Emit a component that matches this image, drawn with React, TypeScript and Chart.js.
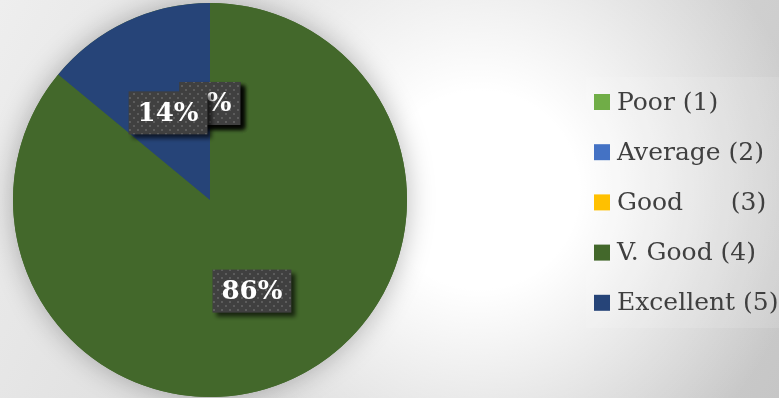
import React, { useEffect, useRef } from "react";
import { Chart, registerables } from "chart.js";

Chart.register(...registerables);

const categories = [
  "Poor (1)",
  "Average (2)",
  "Good\u00a0\u00a0\u00a0\u00a0\u00a0\u00a0(3)",
  "V. Good (4)",
  "Excellent (5)",
];
const percentages = [0, 0, 0, 86, 14];
const sliceColors = ["#70AD47", "#4472C4", "#FFC000", "#43682B", "#264478"];

const W = 779;
const H = 398;

const backgroundPlugin = {
  id: "bg",
  beforeDraw(chart: any) {
    const ctx = chart.ctx;
    ctx.save();
    const lin = ctx.createLinearGradient(0, 0, W, H);
    lin.addColorStop(0, "#eeeeee");
    lin.addColorStop(1, "#c6c6c6");
    ctx.fillStyle = lin;
    ctx.fillRect(0, 0, W, H);
    const rad = ctx.createRadialGradient(480, 190, 0, 480, 190, 330);
    rad.addColorStop(0, "rgba(255,255,255,1)");
    rad.addColorStop(0.3, "rgba(255,255,255,1)");
    rad.addColorStop(1, "rgba(255,255,255,0)");
    ctx.fillStyle = rad;
    ctx.fillRect(0, 0, W, H);
    // legend panel
    ctx.fillStyle = "rgba(255,255,255,0.12)";
    ctx.fillRect(586, 77, W - 586, 251);
    ctx.restore();
  },
};

const pieShadowPlugin = {
  id: "pieShadow",
  beforeDatasetsDraw(chart: any) {
    const meta = chart.getDatasetMeta(0);
    const arc = meta.data[0];
    if (!arc) return;
    const { x, y, outerRadius } = arc.getProps(["x", "y", "outerRadius"], true);
    const ctx = chart.ctx;
    ctx.save();
    ctx.shadowColor = "rgba(0,0,0,0.28)";
    ctx.shadowBlur = 28;
    ctx.fillStyle = sliceColors[3];
    ctx.beginPath();
    ctx.arc(x, y, outerRadius, 0, Math.PI * 2);
    ctx.fill();
    ctx.restore();
  },
};

let dotPattern: CanvasPattern | null = null;
function getPattern(ctx: CanvasRenderingContext2D) {
  if (dotPattern) return dotPattern;
  const c = document.createElement("canvas");
  c.width = 8;
  c.height = 8;
  const p = c.getContext("2d")!;
  p.fillStyle = "#404040";
  p.fillRect(0, 0, 8, 8);
  p.fillStyle = "#5c5c5c";
  p.fillRect(1, 1, 2, 2);
  p.fillRect(5, 5, 2, 2);
  dotPattern = ctx.createPattern(c, "repeat");
  return dotPattern;
}

const labelPlugin = {
  id: "sliceLabels",
  afterDatasetsDraw(chart: any) {
    const ctx: CanvasRenderingContext2D = chart.ctx;
    const meta = chart.getDatasetMeta(0);
    const values = chart.data.datasets[0].data as number[];
    ctx.save();
    ctx.font = "bold 26px 'DejaVu Serif'";
    ctx.textAlign = "center";
    ctx.textBaseline = "middle";
    meta.data.forEach((arc: any, i: number) => {
      const { x, y, startAngle, endAngle, outerRadius } = arc.getProps(
        ["x", "y", "startAngle", "endAngle", "outerRadius"],
        true
      );
      const mid = (startAngle + endAngle) / 2;
      const d = outerRadius * 0.5;
      const cx = x + Math.cos(mid) * d;
      const cy = y + Math.sin(mid) * d + 2;
      const text = `${values[i]}%`;
      const tw = ctx.measureText(text).width;
      const bw = tw + 18;
      const bh = 43;
      ctx.save();
      ctx.shadowColor = "rgba(0,0,0,0.65)";
      ctx.shadowBlur = 4;
      ctx.shadowOffsetX = 4;
      ctx.shadowOffsetY = 4;
      ctx.fillStyle = getPattern(ctx) || "#404040";
      ctx.fillRect(cx - bw / 2, cy - bh / 2, bw, bh);
      ctx.restore();
      ctx.fillStyle = "#ffffff";
      ctx.fillText(text, cx, cy + 1);
    });
    ctx.restore();
  },
};

const legendPlugin = {
  id: "customLegend",
  afterDraw(chart: any) {
    const ctx: CanvasRenderingContext2D = chart.ctx;
    const labels = chart.data.labels as string[];
    const colors = chart.data.datasets[0].backgroundColor as string[];
    ctx.save();
    ctx.font = "25px 'DejaVu Serif'";
    ctx.textAlign = "left";
    ctx.textBaseline = "middle";
    labels.forEach((lab, i) => {
      const cy = 102 + i * 50.2;
      ctx.fillStyle = colors[i];
      ctx.fillRect(594, cy - 8, 16, 16);
      ctx.fillStyle = "#404040";
      ctx.fillText(lab, 617, cy + 1);
    });
    ctx.restore();
  },
};

export default function App() {
  const ref = useRef<HTMLCanvasElement | null>(null);
  useEffect(() => {
    document.body.style.margin = "0";
    if (!ref.current) return;
    const chart = new Chart(ref.current, {
      type: "pie",
      data: {
        labels: categories,
        datasets: [
          {
            data: percentages,
            backgroundColor: sliceColors,
            borderWidth: 0,
          },
        ],
      },
      options: {
        responsive: false,
        animation: false,
        layout: { padding: { left: 13, right: 372, top: 3, bottom: 1 } },
        plugins: {
          legend: { display: false },
          tooltip: { enabled: false },
        },
      },
      plugins: [backgroundPlugin, pieShadowPlugin, labelPlugin, legendPlugin],
    });
    return () => chart.destroy();
  }, []);
  return (
    <div style={{ width: W, height: H }}>
      <canvas ref={ref} width={W} height={H} style={{ display: "block" }} />
    </div>
  );
}
